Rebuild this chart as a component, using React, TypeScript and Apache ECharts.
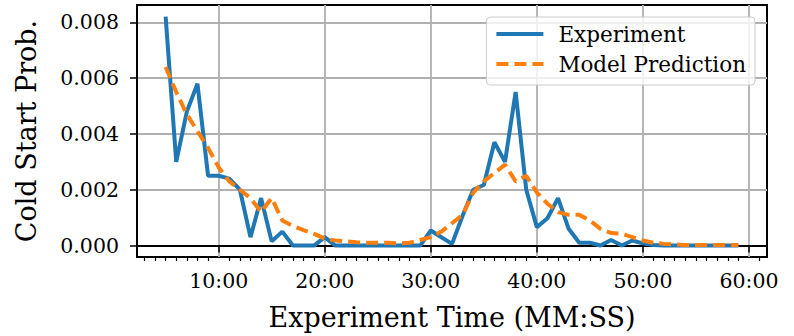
import React, { useEffect, useRef } from "react";
import * as echarts from "echarts";

const minutes = [5, 6, 7, 8, 9, 10, 11, 12, 13, 14, 15, 16, 17, 18, 19, 20, 21, 22, 23, 24, 25, 26, 27, 28, 29, 30, 31, 32, 33, 34, 35, 36, 37, 38, 39, 40, 41, 42, 43, 44, 45, 46, 47, 48, 49, 50, 51, 52, 53, 54, 55, 56, 57, 58, 59];

const experiment = [0.0082, 0.0030, 0.0048, 0.0058, 0.0025, 0.0025, 0.0024, 0.0020, 0.0003, 0.0017, 0.00015, 0.0005, 0.0, 0.0, 0.0, 0.0003, 0.0, 0.0, 0.0, 0.0, 0.0, 0.0, 0.0, 0.0, 0.0, 0.00054, 0.0003, 0.00006, 0.00107, 0.0020, 0.00217, 0.0037, 0.0030, 0.0055, 0.0020, 0.00066, 0.00098, 0.0017, 0.0006, 0.0001, 0.0001, 0.0, 0.0002, 0.0, 0.00018, 0.00008, 0.00002, 0.0, 0.0, 0.0, 0.0, 0.0, 0.0, 0.0, 0.0];

const model = [0.0064, 0.0055, 0.0047, 0.0041, 0.0035, 0.0028, 0.0023, 0.0020, 0.0017, 0.0012, 0.0017, 0.0009, 0.0007, 0.00055, 0.00042, 0.00025, 0.00018, 0.00015, 0.00012, 0.0001, 0.0001, 0.0001, 0.00008, 0.0001, 0.0002, 0.0003, 0.0005, 0.0008, 0.0011, 0.0019, 0.0023, 0.0026, 0.0029, 0.0023, 0.0025, 0.0019, 0.0015, 0.0012, 0.0011, 0.0011, 0.0009, 0.0006, 0.00045, 0.00042, 0.0003, 0.00018, 0.0001, 0.00006, 0.00004, 0.00002, 0.00002, 0.00002, 0.00002, 0.00002, 0.00002];

const xMajorTicks = [10, 20, 30, 40, 50, 60];
const xMinorTicks = [3, 4, 5, 6, 7, 8, 9, 11, 12, 13, 14, 15, 16, 17, 18, 19, 21, 22, 23, 24, 25, 26, 27, 28, 29, 31, 32, 33, 34, 35, 36, 37, 38, 39, 41, 42, 43, 44, 45, 46, 47, 48, 49, 51, 52, 53, 54, 55, 56, 57, 58, 59, 61];
const yTicks = [0, 0.002, 0.004, 0.006, 0.008];

const FONT = "DejaVu Serif";

export default function App() {
  const ref = useRef<HTMLDivElement>(null);
  useEffect(() => {
    if (!ref.current) return;
    const chart = echarts.init(ref.current, undefined, { renderer: "svg" });
    chart.setOption({
      animation: false,
      grid: {
        left: 137,
        right: 27,
        top: 5,
        bottom: 78,
        show: true,
        borderColor: "#000",
        borderWidth: 2,
        backgroundColor: "transparent",
      },
      legend: {
        orient: "vertical",
        right: 39,
        top: 17,
        padding: [6, 9, 10, 8],
        itemGap: 8,
        itemWidth: 47,
        itemHeight: 22,
        backgroundColor: "rgba(255,255,255,0.8)",
        borderColor: "#cccccc",
        borderWidth: 1,
        borderRadius: 4,
        itemStyle: { opacity: 0 },
        lineStyle: { width: 4 },
        textStyle: { fontFamily: FONT, fontSize: 21.5, color: "#000", padding: [0, 0, 0, 10] },
        data: ["Experiment", "Model Prediction"],
      },
      xAxis: [
        {
          type: "value",
          min: 2.3,
          max: 61.7,
          name: "Experiment Time (MM:SS)",
          nameLocation: "middle",
          nameGap: 47,
          nameTextStyle: { fontFamily: FONT, fontSize: 27, color: "#000" },
          axisLine: { show: true, lineStyle: { color: "#000", width: 2 } },
          axisTick: { show: true, customValues: xMajorTicks, length: 7, lineStyle: { color: "#000", width: 1.5 } },
          axisLabel: {
            customValues: xMajorTicks,
            formatter: (v: number) => `${v}:00`,
            fontFamily: FONT,
            fontSize: 20.5,
            color: "#000",
            margin: 13,
          },
          splitLine: { show: true, lineStyle: { color: "#b0b0b0", width: 1.8 } },
        },
        {
          type: "value",
          min: 2.3,
          max: 61.7,
          position: "bottom",
          axisLine: { show: false },
          axisTick: { show: true, customValues: xMinorTicks, length: 4, lineStyle: { color: "#000", width: 1.2 } },
          axisLabel: { show: false },
          splitLine: { show: false },
        },
      ],
      yAxis: {
        type: "value",
        min: -0.00041,
        max: 0.00862,
        name: "Cold Start Prob.",
        nameLocation: "middle",
        nameGap: 97,
        nameTextStyle: { fontFamily: FONT, fontSize: 27, color: "#000" },
        axisLine: { show: true, lineStyle: { color: "#000", width: 2 } },
        axisTick: { show: true, customValues: yTicks, length: 7, lineStyle: { color: "#000", width: 1.5 } },
        axisLabel: {
          customValues: yTicks,
          formatter: (v: number) => v.toFixed(3),
          fontFamily: FONT,
          fontSize: 20.5,
          color: "#000",
          margin: 18,
        },
        splitLine: { show: true, lineStyle: { color: "#b0b0b0", width: 1.8 } },
      },
      series: [
        {
          name: "Experiment",
          type: "line",
          xAxisIndex: 0,
          data: minutes.map((m, i) => [m, experiment[i]]),
          showSymbol: false,
          symbol: "none",
          lineStyle: { color: "#1f77b4", width: 4 },
          itemStyle: { color: "#1f77b4" },
          z: 3,
        },
        {
          name: "Model Prediction",
          type: "line",
          xAxisIndex: 0,
          data: minutes.map((m, i) => [m, model[i]]),
          showSymbol: false,
          symbol: "none",
          lineStyle: { color: "#ff7f0e", width: 4, type: [12, 6] },
          itemStyle: { color: "#ff7f0e" },
          z: 4,
        },
      ],
    });
    return () => chart.dispose();
  }, []);
  return <div ref={ref} style={{ width: 794, height: 336, position: "absolute", left: 0, top: 0 }} />;
}
